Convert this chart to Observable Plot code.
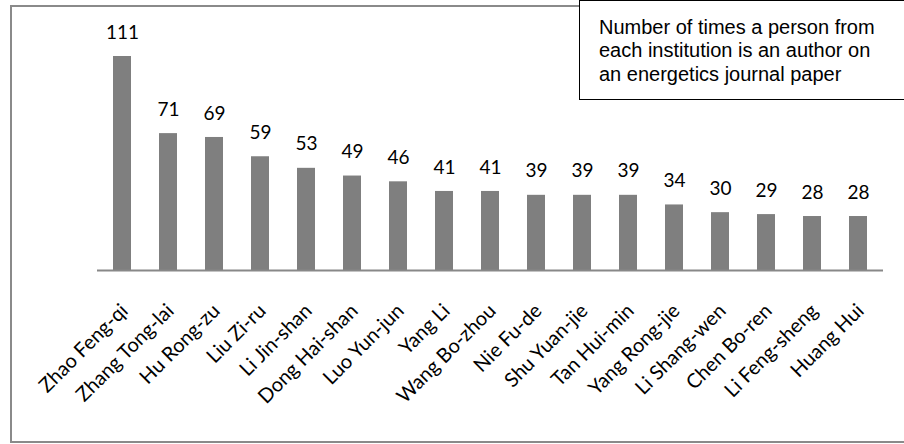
<!DOCTYPE html>
<html><head><meta charset="utf-8">
<script src="https://cdn.jsdelivr.net/npm/d3@7"></script>
<script src="https://cdn.jsdelivr.net/npm/@observablehq/plot@0.6"></script>
<style>
body{margin:0;background:#fff;}
#wrap{position:relative;width:904px;height:444px;overflow:hidden;background:#fff;}
#border{position:absolute;left:10px;top:5px;width:930px;height:438px;border:2px solid #8a8a8a;box-sizing:border-box;pointer-events:none;}
#note{position:absolute;left:579px;top:0px;width:340px;height:100px;border:1.5px solid #000;box-sizing:border-box;background:#fff;font:20px "Liberation Sans",Arial,sans-serif;line-height:23.3px;padding:15px 0 0 19px;color:#000;white-space:nowrap;}
#chart{position:absolute;left:0;top:0;}
</style>
</head><body>
<div id="wrap"><div id="chart"></div><div id="border"></div><div id="note">Number of times a person from<br>each institution is an author on<br>an energetics journal paper</div></div>
<script>
const names = ["Zhao Feng-qi","Zhang Tong-lai","Hu Rong-zu","Liu Zi-ru","Li Jin-shan","Dong Hai-shan","Luo Yun-jun","Yang Li","Wang Bo-zhou","Nie Fu-de","Shu Yuan-jie","Tan Hui-min","Yang Rong-jie","Li Shang-wen","Chen Bo-ren","Li Feng-sheng","Huang Hui"];
const values = [111,71,69,59,53,49,46,41,41,39,39,39,34,30,29,28,28];
const data = names.map((n,i)=>({name:n, value:values[i]}));
const font = "Lato, 'Open Sans', sans-serif";
const chart = Plot.plot({
  width: 904, height: 444,
  marginLeft: 97, marginRight: 21, marginTop: 56, marginBottom: 174,
  style: {fontFamily: font, background: "transparent", overflow: "visible"},
  x: {type: "band", domain: names, range: [97, 883], paddingInner: 0.6, paddingOuter: 0.3, axis: null},
  y: {domain: [0, 111], range: [270, 56], axis: null},
  marks: [
    Plot.barY(data, {x: "name", y: "value", fill: "#7f7f7f"}),
    Plot.ruleY([0], {stroke: "#888", strokeWidth: 2}),
    Plot.text(data, {x: "name", y: "value", text: d => String(d.value), dy: -24, fontSize: 19, fill: "#000", lineAnchor: "middle"}),
    Plot.text(data, {x: "name", y: () => 0, text: "name", rotate: -45, textAnchor: "end", lineAnchor: "middle", dx: 2, dy: 37, fontSize: 20, fill: "#000"})
  ]
});
document.getElementById("chart").appendChild(chart);
</script>
</body></html>
